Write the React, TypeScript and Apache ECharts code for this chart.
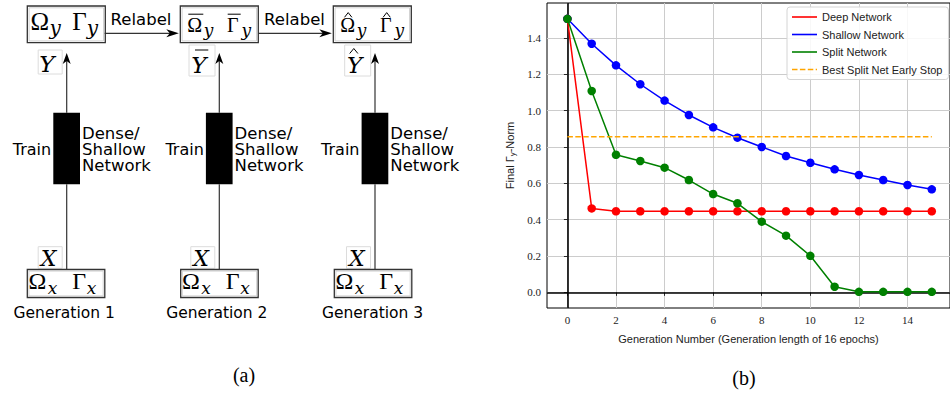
import React, { useEffect, useRef } from "react";
import * as echarts from "echarts";

// ---------- data ----------
const generations = [0, 1, 2, 3, 4, 5, 6, 7, 8, 9, 10, 11, 12, 13, 14, 15];
const deepNetwork = [1.505, 0.462, 0.446, 0.446, 0.446, 0.446, 0.446, 0.446, 0.446, 0.446, 0.446, 0.446, 0.446, 0.446, 0.446, 0.446];
const shallowNetwork = [1.505, 1.368, 1.249, 1.145, 1.055, 0.976, 0.908, 0.851, 0.8, 0.75, 0.713, 0.677, 0.646, 0.618, 0.591, 0.567];
const splitNetwork = [1.505, 1.108, 0.757, 0.723, 0.686, 0.618, 0.541, 0.49, 0.389, 0.312, 0.201, 0.031, 0.003, 0.003, 0.003, 0.003];
const earlyStopX = [0, 15];
const earlyStopY = [0.856, 0.856];
const xTicks = [0, 2, 4, 6, 8, 10, 12, 14];
const yTicks = [0, 0.2, 0.4, 0.6, 0.8, 1.0, 1.2, 1.4];
const seriesNames = ["Deep Network", "Shallow Network", "Split Network", "Best Split Net Early Stop"];
const seriesColors = ["#ff0000", "#0000ff", "#008000", "#ffa500"];
const generationLabels = ["Generation 1", "Generation 2", "Generation 3"];
const boxAccents = ["", "bar", "hat"];

// ---------- diagram helpers ----------
const SANS = '"DejaVu Sans"';
const SERIF = '"Liberation Serif"';
const ISERIF = '"DejaVu Serif"';

function T(x: number, baseline: number, text: string, size: number, opts: any = {}) {
  const font = `${opts.italic ? "italic " : ""}${size}px ${opts.family ?? SANS}`;
  const align = opts.align ?? "left";
  const style: any = {
    text,
    font,
    fill: opts.fill ?? "#000",
    align,
    verticalAlign: "middle",
    textAlign: align,
    textVerticalAlign: "middle",
  };
  if (opts.lineHeight) style.lineHeight = opts.lineHeight;
  return {
    type: "text",
    silent: true,
    z: 10,
    x,
    y: baseline - 0.34 * size,
    style,
  };
}
function R(x: number, y: number, w: number, h: number, stroke: string, lw: number, fill = "none") {
  return { type: "rect", silent: true, z: 9, shape: { x, y, width: w, height: h }, style: { fill, stroke, lineWidth: lw } };
}
function L(x1: number, y1: number, x2: number, y2: number, lw = 1.2, stroke = "#333") {
  return { type: "line", silent: true, z: 9, shape: { x1, y1, x2, y2 }, style: { stroke, lineWidth: lw } };
}
function P(points: number[][], fill = "#000") {
  return { type: "polygon", silent: true, z: 10, shape: { points }, style: { fill, stroke: "none" } };
}
function hat(x1: number, x2: number, yBase: number, yPeak: number) {
  return {
    type: "polyline",
    silent: true,
    z: 10,
    shape: { points: [[x1, yBase], [(x1 + x2) / 2, yPeak], [x2, yBase]] },
    style: { stroke: "#000", lineWidth: 1, fill: "none" },
  };
}

function buildDiagram() {
  const els: any[] = [];
  const cols = [66.7, 219.3, 375];
  const topX = [27.3, 180.3, 333.3];
  const botX = [27.3, 180.7, 334.3];
  const relabelCenters = [141, 294.5];
  const boxW = 78;
  cols.forEach((cx, i) => {
    const acc = boxAccents[i];
    const x0 = topX[i];
    // top box
    els.push(R(x0, 6, boxW, 36.7, "#333", 1.3));
    els.push(R(x0 + 1.8, 7.8, boxW - 3.6, 33.1, "#c8c8c8", 0.8));
    if (!acc) {
      els.push(T(x0 + 3.2, 30, "Ω", 25, { family: SERIF }));
      els.push(T(x0 + 22.2, 35, "y", 20, { family: ISERIF, italic: true }));
      els.push(T(x0 + 45, 30, "Γ", 25, { family: SERIF }));
      els.push(T(x0 + 59.5, 35, "y", 20, { family: ISERIF, italic: true }));
    } else {
      els.push(T(x0 + 7, 31.5, "Ω", 20, { family: SERIF }));
      els.push(T(x0 + 23.4, 35.5, "y", 17, { family: ISERIF, italic: true }));
      els.push(T(x0 + 46.8, 31.5, "Γ", 20, { family: SERIF }));
      els.push(T(x0 + 61.2, 35.5, "y", 17, { family: ISERIF, italic: true }));
      if (acc === "bar") {
        els.push(L(x0 + 8, 14.2, x0 + 23, 14.2, 1, "#000"));
        els.push(L(x0 + 47.4, 14.2, x0 + 60.4, 14.2, 1, "#000"));
      } else {
        els.push(hat(x0 + 11.2, x0 + 18.6, 17.3, 12.6));
        els.push(hat(x0 + 49.8, x0 + 57, 17.3, 12.6));
      }
    }
    // Y label
    if (!acc) {
      els.push(R(cx - 28.5, 50, 24, 24, "#dcdcdc", 1));
      els.push(T(cx - 27.5, 71.7, "Y", 23, { family: ISERIF, italic: true }));
    } else {
      els.push(R(cx - 30.3, 45, 26, 31, "#dcdcdc", 1));
      els.push(T(cx - 28, 72.7, "Y", 23, { family: ISERIF, italic: true }));
      if (acc === "bar") {
        els.push(L(cx - 24.3, 50, cx - 11, 50, 1, "#000"));
      } else {
        els.push(hat(cx - 25.3, cx - 17.1, 53.5, 48.5));
      }
    }
    // vertical arrow up
    els.push(L(cx, 60, cx, 112.7, 1.2, "#333"));
    els.push(P([[cx, 53], [cx - 4, 64], [cx, 61], [cx + 4, 64]], "#000"));
    // network block
    els.push(R(cx - 13.4, 112.7, 26.7, 71.6, "none", 0, "#000"));
    els.push(L(cx, 184.3, cx, 269.5, 1.2, "#333"));
    // labels
    els.push(T(cx - 15.5, 155, "Train", 16, { align: "right" }));
    els.push(T(cx + 15.3, 155.3, "Dense/\nShallow\nNetwork", 16.5, { lineHeight: 16 }));
    // X label
    els.push(R(cx - 28.5, 246.7, 24, 21.6, "#dcdcdc", 1));
    els.push(T(cx - 26, 266, "X", 22, { family: ISERIF, italic: true }));
    // bottom box
    const b0 = botX[i];
    els.push(R(b0, 269.5, 77.5, 28, "#333", 1.3));
    els.push(R(b0 + 1.6, 271.1, 74.3, 24.8, "#c8c8c8", 0.8));
    els.push(T(b0 + 1.2, 289.5, "Ω", 24, { family: SERIF }));
    els.push(T(b0 + 20.5, 294, "x", 17, { family: ISERIF, italic: true }));
    els.push(T(b0 + 45, 289.5, "Γ", 24, { family: SERIF }));
    els.push(T(b0 + 59.5, 294, "x", 17, { family: ISERIF, italic: true }));
    // generation label
    els.push(T(cx - 2.5, 318.3, generationLabels[i], 15.5, { align: "center" }));
  });
  // relabel arrows
  const arrows = [
    [104.7, 180.3],
    [258.3, 333.3],
  ];
  arrows.forEach(([a, b], k) => {
    els.push(L(a, 33.3, b - 8, 33.3, 1.2, "#333"));
    els.push(P([[b - 1.5, 33.3], [b - 14, 29.3], [b - 10.5, 33.3], [b - 14, 37.3]], "#000"));
    els.push(T(relabelCenters[k], 25, "Relabel", 16.5, { align: "center" }));
  });
  // sub-figure captions
  els.push(T(244, 382, "(a)", 20, { family: SERIF, align: "center" }));
  els.push(T(744, 385, "(b)", 20, { family: SERIF, align: "center" }));
  return els;
}

function legendIcon(dashed: boolean) {
  if (!dashed) return "path://M0,0h25v1.6h-25z";
  return "path://M0,0h5.5v1.6h-5.5z M7.9,0h5.5v1.6h-5.5z M15.8,0h5.5v1.6h-5.5z M23.7,0h1.3v1.6h-1.3z";
}

export default function App() {
  const ref = useRef<HTMLDivElement>(null);
  useEffect(() => {
    if (!ref.current) return;
    const chart = echarts.init(ref.current, null, { renderer: "svg" });
    const tickFont = { fontFamily: SERIF, fontSize: 11, color: "#222" };
    const lineSeries = [deepNetwork, shallowNetwork, splitNetwork].map((vals, k) => ({
      name: seriesNames[k],
      type: "line",
      data: generations.map((g, i) => [g, vals[i]]),
      symbol: "circle",
      symbolSize: 8.5,
      showAllSymbol: true,
      lineStyle: { color: seriesColors[k], width: 1.5 },
      itemStyle: { color: seriesColors[k] },
      z: 3 + k,
      ...(k === 0
        ? {
            markLine: {
              silent: true,
              symbol: "none",
              label: { show: false },
              lineStyle: { color: "#000", width: 1.6, type: "solid" },
              data: [{ xAxis: 0 }, { yAxis: 0 }],
              z: 1,
            },
          }
        : {}),
    }));
    const option: any = {
      animation: false,
      backgroundColor: "#fff",
      grid: {
        left: 547,
        top: 3,
        right: -3.7,
        bottom: 86,
        show: true,
        borderColor: "#000",
        borderWidth: 1,
        backgroundColor: "transparent",
      },
      xAxis: {
        type: "value",
        min: -0.84,
        max: 15.75,
        axisLine: { show: false },
        axisTick: { show: true, customValues: xTicks, length: 3.5, lineStyle: { color: "#000", width: 0.8 } },
        axisLabel: { customValues: xTicks, formatter: (v: number) => String(v), margin: 6, ...tickFont },
        splitLine: { show: true, lineStyle: { color: "#cccccc", width: 1 } },
        name: "Generation Number (Generation length of 16 epochs)",
        nameLocation: "middle",
        nameGap: 25,
        nameTextStyle: { fontFamily: '"Liberation Sans"', fontSize: 11, color: "#222" },
      },
      yAxis: {
        type: "value",
        min: -0.086,
        max: 1.592,
        axisLine: { show: false },
        axisTick: { show: true, customValues: yTicks, length: 3.5, lineStyle: { color: "#000", width: 0.8 } },
        axisLabel: { customValues: yTicks, formatter: (v: number) => v.toFixed(1), margin: 6, ...tickFont },
        splitLine: { show: true, lineStyle: { color: "#cccccc", width: 1 } },
        name: "{a|Final Γ}{s|y}{a|-Norm}",
        nameLocation: "middle",
        nameGap: 31,
        nameTextStyle: {
          color: "#222",
          rich: {
            a: { fontFamily: '"Liberation Sans"', fontSize: 11, color: "#222" },
            s: { fontFamily: '"Liberation Sans"', fontSize: 8, color: "#222", padding: [5, 0, 0, 0] },
          },
        },
      },
      legend: {
        orient: "vertical",
        left: 787,
        top: 7,
        padding: [4, 6, 4, 5],
        itemWidth: 25,
        itemHeight: 1.6,
        itemGap: 5.5,
        backgroundColor: "rgba(255,255,255,0.85)",
        borderColor: "#d4d4d4",
        borderWidth: 1,
        borderRadius: 3,
        textStyle: { fontFamily: '"Liberation Sans"', fontSize: 11, color: "#222", lineHeight: 12 },
        data: seriesNames.map((n, k) => ({ name: n, icon: legendIcon(k === 3), itemStyle: { color: seriesColors[k] } })),
      },
      series: [
        ...lineSeries,
        {
          name: seriesNames[3],
          type: "line",
          data: earlyStopX.map((x, i) => [x, earlyStopY[i]]),
          symbol: "none",
          lineStyle: { color: seriesColors[3], width: 1.5, type: [5.5, 2.4] },
          itemStyle: { color: seriesColors[3] },
          z: 7,
        },
      ],
      graphic: { elements: buildDiagram() },
    };
    chart.setOption(option);
    return () => chart.dispose();
  }, []);
  return <div ref={ref} style={{ position: "fixed", left: 0, top: 0, width: 950, height: 394 }} />;
}
